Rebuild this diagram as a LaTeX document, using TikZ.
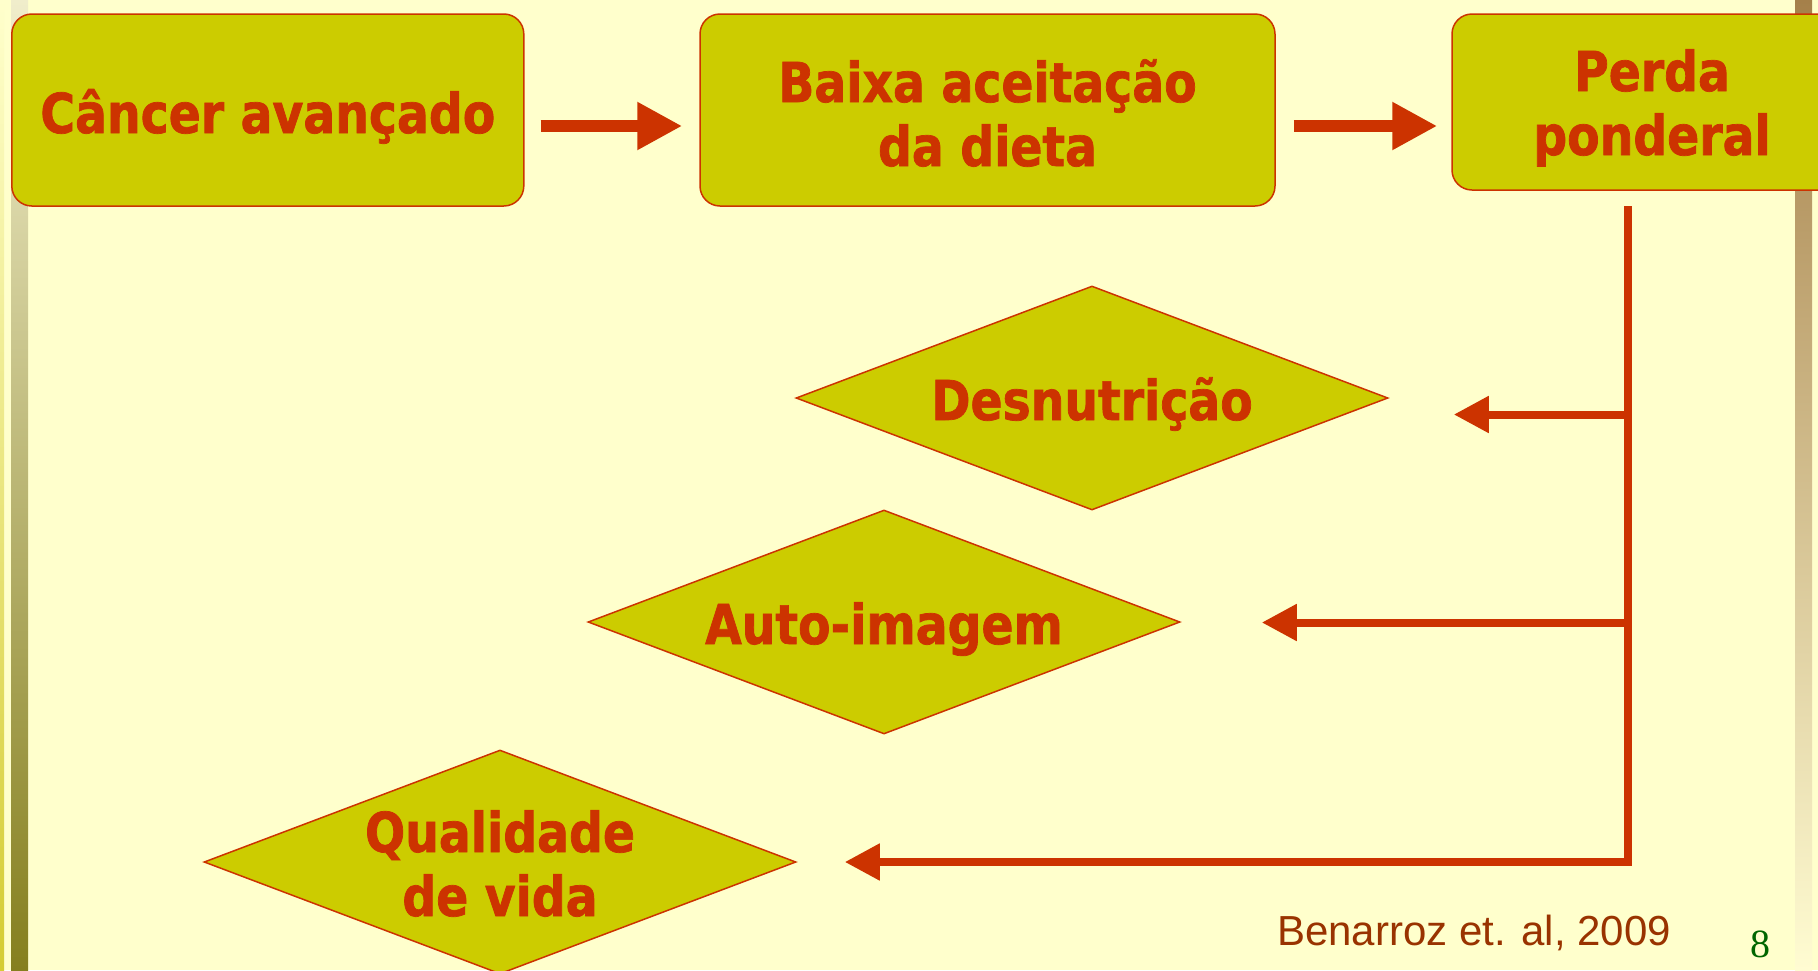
\documentclass[tikz,border=0pt]{standalone}
\usepackage{fontspec}
\usetikzlibrary{shapes.geometric,arrows.meta}
\newfontfamily\boxfont{DejaVu Sans Bold}[FakeStretch=0.86, FakeBold=1.3]
\newfontfamily\citefont{Liberation Sans}
\newfontfamily\numfont{Liberation Serif}
\definecolor{bg}{HTML}{FFFFCC}
\definecolor{boxfill}{HTML}{CCCC00}
\definecolor{rust}{HTML}{CC3300}
\definecolor{citecol}{HTML}{993300}
\definecolor{numcol}{HTML}{006600}
\tikzset{
  box/.style={rectangle, rounded corners=20pt, fill=boxfill, draw=rust, line width=1.5pt,
    text=rust, align=center, inner sep=0pt, text depth=0pt,
    font=\boxfont\fontsize{55}{64}\selectfont},
  dia/.style={diamond, aspect=2.64, fill=boxfill, draw=rust, line width=1.5pt,
    text=rust, align=center, inner sep=0pt, text depth=0pt,
    minimum width=592pt, minimum height=224pt,
    font=\boxfont\fontsize{55}{64}\selectfont},
  toparrow/.style={draw=rust, line width=12pt, -{Triangle[length=45pt,width=45pt]}},
  trunk/.style={draw=rust, line width=8pt},
  branch/.style={draw=rust, line width=8pt, -{Triangle[length=35pt,width=35pt]}}
}
\begin{document}
\begin{tikzpicture}[x=1pt,y=-1pt]
\useasboundingbox (0,0) rectangle (1818,970);
\fill[bg] (0,0) rectangle (1818,970);
% decorative side bars
\shade[top color=bg, bottom color={rgb,255:red,212;green,204;blue,51}] (0,0) rectangle (4,970);
\shade[top color={rgb,255:red,240;green,237;blue,203}, bottom color={rgb,255:red,133;green,127;blue,30}] (11,0) rectangle (28,970);
\shade[top color={rgb,255:red,165;green,128;blue,74}, bottom color={rgb,255:red,255;green,252;blue,210}] (1795,0) rectangle (1812,970);
% boxes
\node[box, minimum width=512pt, minimum height=192pt, text height=46pt] (b1) at (267.8,110) {Câncer avançado};
\node[box, minimum width=575pt, minimum height=192pt, text height=112pt] (b2) at (987.5,110) {Baixa aceitação\\da dieta};
\node[box, minimum width=400pt, minimum height=176pt, text height=106pt] (b3) at (1652,102) {Perda\\ponderal};
% diamonds
\node[dia, text height=44pt] (d1) at (1092,398) {Desnutrição};
\node[dia, text height=44pt] (d2) at (884,622) {Auto-imagem};
\node[dia, text height=108pt] (d3) at (500,862) {Qualidade\\de vida};
% top arrows
\draw[toparrow, shorten <=16pt, shorten >=17pt] ([yshift=-16pt]b1.east) -- ([yshift=-16pt]b1.east -| b2.west);
\draw[toparrow, shorten <=18pt, shorten >=14pt] ([yshift=-16pt]b2.east) -- ([yshift=-16pt]b2.east -| b3.west);
% trunk and branches
\coordinate (ttop) at (1628,206);
\coordinate (tbot) at (1628,866);
\coordinate (j1) at (1628,414.5);
\coordinate (j2) at (1628,622.5);
\coordinate (j3) at (1628,862);
\draw[trunk] (ttop) -- (tbot);
\draw[branch] (j1) -- ([xshift=65pt]d1.east |- j1);
\draw[branch] (j2) -- ([xshift=81pt]d2.east |- j2);
\draw[branch] (j3) -- ([xshift=48pt]d3.east |- j3);
% citation and page number
\node[anchor=base west, inner sep=0pt, text=citecol, font=\citefont\fontsize{42}{48}\selectfont] (cite) at (1277,945) {Benarroz et. al, 2009};
\node[anchor=base west, inner sep=0pt, text=numcol, font=\numfont\fontsize{40}{46}\selectfont] (pnum) at (1750,957) {8};
\end{tikzpicture}
\end{document}
